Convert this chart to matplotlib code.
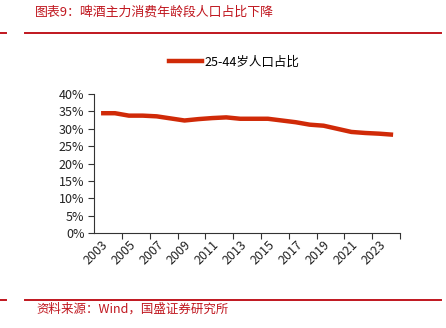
import matplotlib
matplotlib.use("Agg")
import matplotlib.pyplot as plt
from matplotlib.lines import Line2D
from matplotlib.ticker import FuncFormatter

plt.rcParams['font.family'] = ['Noto Sans CJK SC', 'DejaVu Sans']

# 25-44岁人口占比 (%)
years = list(range(2003, 2025))
share = [34.5, 34.5, 33.8, 33.8, 33.6, 33.0, 32.4, 32.8, 33.1, 33.3, 32.9, 32.9,
         32.9, 32.4, 31.9, 31.2, 30.9, 30.0, 29.1, 28.8, 28.6, 28.3]
year_labels = [str(y) for y in years[::2]]

title = "图表9：啤酒主力消费年龄段人口占比下降"
source = "资料来源：Wind，国盛证券研究所"
legend_label = "25-44岁人口占比"

red = "#C0161E"
line_col = "#D02A08"

fig = plt.figure(figsize=(4.46, 3.28), dpi=100)
ax = fig.add_axes([0.211, 0.290, 0.686, 0.423])

x = list(range(len(years)))
ax.plot(x, share, color=line_col, lw=3.2, solid_capstyle='butt')

ax.set_xlim(-0.5, len(years) - 0.5)
ax.set_ylim(0, 40)
ax.set_yticks(range(0, 41, 5))
ax.yaxis.set_major_formatter(FuncFormatter(lambda v, p: f"{int(v)}%"))

ax.set_xticks([i + 1.5 for i in range(0, len(years), 2)])
ax.set_xticklabels([])
ax.set_xticks(x[::2], minor=True)
ax.set_xticklabels(year_labels, minor=True, rotation=45, ha='right',
                   rotation_mode='anchor', fontsize=9, color='#222222')
ax.tick_params(axis='x', which='minor', length=0, pad=4)
ax.tick_params(axis='x', which='major', length=4, width=0.8, color='#333333')
ax.tick_params(axis='y', length=4, width=0.8, color='#333333',
               labelsize=9, labelcolor='#222222', pad=3)
for s in ['top', 'right']:
    ax.spines[s].set_visible(False)
for s in ['left', 'bottom']:
    ax.spines[s].set_color('#333333')
    ax.spines[s].set_linewidth(0.8)

# legend
handle = Line2D([0], [0], color=line_col, lw=3.2)
fig.legend([handle], [legend_label], loc='center', bbox_to_anchor=(0.525, 0.81),
           frameon=False, fontsize=9, handlelength=2.7, handletextpad=0.2)

# header and footer
fig.text(0.079, 0.963, title, color=red, fontsize=9.3, style='italic',
         va='center', ha='left')
fig.text(0.081, 0.058, source, color=red, fontsize=9, style='italic',
         va='center', ha='left')
for yy in [1 - 32.5 / 328, 1 - 299.5 / 328]:
    fig.add_artist(Line2D([0.0, 0.014], [yy, yy], color=red, lw=1.4))
    fig.add_artist(Line2D([0.057, 0.989], [yy, yy], color=red, lw=1.4))

fig.savefig("out.png", dpi=100)
